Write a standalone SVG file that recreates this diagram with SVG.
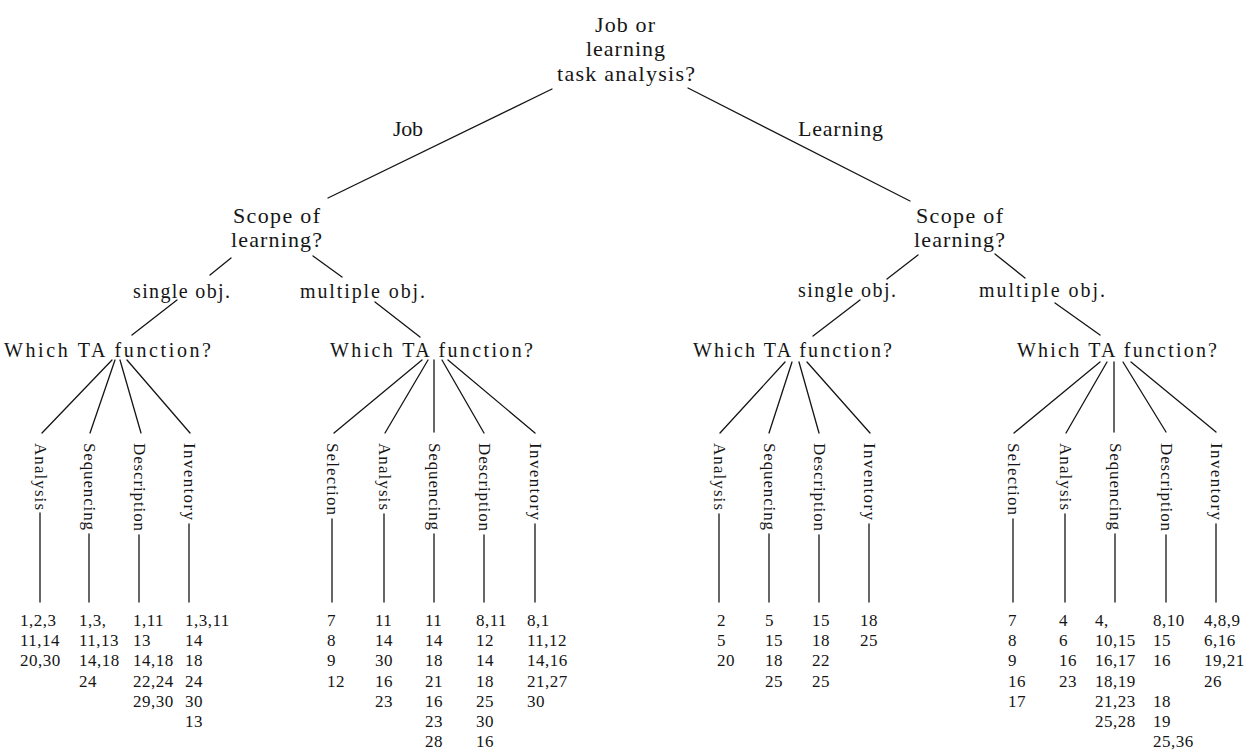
<svg xmlns="http://www.w3.org/2000/svg" width="1254" height="751" viewBox="0 0 1254 751">
<style>
text{font-family:"Liberation Serif","DejaVu Serif",serif;fill:#151515}
.q{font-size:22px}
.w{font-size:20px}
.v{font-size:17px}
.n{font-size:17px;letter-spacing:0.5px}
#connectors line{stroke:#151515;stroke-width:1.3;stroke-linecap:round}
</style>
<rect width="1254" height="751" fill="#fff"/>
<g id="connectors">
<line x1="552" y1="89" x2="328" y2="198"/>
<line x1="688" y1="88" x2="910" y2="201"/>
<line x1="231" y1="258" x2="210" y2="275"/>
<line x1="313" y1="256" x2="342" y2="277"/>
<line x1="918" y1="255" x2="887" y2="279"/>
<line x1="995" y1="254" x2="1025" y2="278"/>
<line x1="177" y1="300" x2="132" y2="335"/>
<line x1="375" y1="302" x2="420" y2="337"/>
<line x1="860" y1="300" x2="813" y2="336"/>
<line x1="1055" y1="303" x2="1100" y2="335"/>
<line x1="112" y1="360" x2="42" y2="433"/>
<line x1="115" y1="360" x2="90" y2="433"/>
<line x1="120" y1="360" x2="141" y2="433"/>
<line x1="127" y1="360" x2="190" y2="433"/>
<line x1="422" y1="360" x2="334" y2="433"/>
<line x1="428" y1="360" x2="385" y2="433"/>
<line x1="434" y1="360" x2="434" y2="432"/>
<line x1="442" y1="360" x2="484" y2="433"/>
<line x1="448" y1="360" x2="535" y2="433"/>
<line x1="785" y1="362" x2="720" y2="433"/>
<line x1="792" y1="362" x2="769" y2="433"/>
<line x1="799" y1="362" x2="819" y2="433"/>
<line x1="807" y1="362" x2="870" y2="433"/>
<line x1="1100" y1="362" x2="1014" y2="433"/>
<line x1="1107" y1="362" x2="1066" y2="433"/>
<line x1="1114" y1="362" x2="1114" y2="432"/>
<line x1="1123" y1="362" x2="1166" y2="432"/>
<line x1="1131" y1="362" x2="1216" y2="432"/>
<line x1="40" y1="513" x2="40" y2="602"/>
<line x1="89" y1="534" x2="89" y2="602"/>
<line x1="139" y1="535" x2="139" y2="602"/>
<line x1="189" y1="524" x2="189" y2="602"/>
<line x1="332" y1="519" x2="332" y2="602"/>
<line x1="384" y1="514" x2="384" y2="602"/>
<line x1="434" y1="534" x2="434" y2="602"/>
<line x1="484" y1="535" x2="484" y2="602"/>
<line x1="535" y1="524" x2="535" y2="602"/>
<line x1="719" y1="514" x2="719" y2="602"/>
<line x1="769" y1="534" x2="769" y2="602"/>
<line x1="819" y1="535" x2="819" y2="602"/>
<line x1="869" y1="524" x2="869" y2="602"/>
<line x1="1013" y1="519" x2="1013" y2="602"/>
<line x1="1065" y1="514" x2="1065" y2="602"/>
<line x1="1115" y1="534" x2="1115" y2="602"/>
<line x1="1166" y1="535" x2="1166" y2="602"/>
<line x1="1216" y1="524" x2="1216" y2="602"/>
</g>
<g id="root">
<text class="q" x="595" y="32" textLength="60">Job or</text>
<text class="q" x="586" y="56" textLength="79">learning</text>
<text class="q" x="557" y="81" textLength="138">task analysis?</text>
</g>
<g id="label-job"><text class="q" x="393" y="136" textLength="30">Job</text></g>
<g id="label-learning"><text class="q" x="798" y="136" textLength="85">Learning</text></g>
<g id="scope-left">
<text class="q" x="233" y="223" textLength="87">Scope of</text>
<text class="q" x="231" y="247" textLength="91">learning?</text>
</g>
<g id="scope-right">
<text class="q" x="916" y="223" textLength="87">Scope of</text>
<text class="q" x="914" y="247" textLength="91">learning?</text>
</g>
<g id="single-left"><text class="w" x="133" y="298" textLength="97">single obj.</text></g>
<g id="multiple-left"><text class="w" x="300" y="298" textLength="125">multiple obj.</text></g>
<g id="single-right"><text class="w" x="798" y="297" textLength="98">single obj.</text></g>
<g id="multiple-right"><text class="w" x="979" y="297" textLength="126">multiple obj.</text></g>
<g id="wta-1"><text class="w" x="4" y="357" textLength="207">Which TA function?</text></g>
<g id="wta-2"><text class="w" x="330" y="357" textLength="203">Which TA function?</text></g>
<g id="wta-3"><text class="w" x="693" y="357" textLength="199">Which TA function?</text></g>
<g id="wta-4"><text class="w" x="1017" y="357" textLength="200">Which TA function?</text></g>
<g id="g1-functions">
<text class="v" transform="translate(35,443) rotate(90)" textLength="67">Analysis</text>
<text class="v" transform="translate(84,443) rotate(90)" textLength="87">Sequencing</text>
<text class="v" transform="translate(134,443) rotate(90)" textLength="88">Description</text>
<text class="v" transform="translate(184,443) rotate(90)" textLength="77">Inventory</text>
</g>
<g id="g2-functions">
<text class="v" transform="translate(327,443) rotate(90)" textLength="72">Selection</text>
<text class="v" transform="translate(379,443) rotate(90)" textLength="67">Analysis</text>
<text class="v" transform="translate(429,443) rotate(90)" textLength="87">Sequencing</text>
<text class="v" transform="translate(479,443) rotate(90)" textLength="88">Description</text>
<text class="v" transform="translate(530,443) rotate(90)" textLength="77">Inventory</text>
</g>
<g id="g3-functions">
<text class="v" transform="translate(714,443) rotate(90)" textLength="67">Analysis</text>
<text class="v" transform="translate(764,443) rotate(90)" textLength="87">Sequencing</text>
<text class="v" transform="translate(814,443) rotate(90)" textLength="88">Description</text>
<text class="v" transform="translate(864,443) rotate(90)" textLength="77">Inventory</text>
</g>
<g id="g4-functions">
<text class="v" transform="translate(1008,443) rotate(90)" textLength="72">Selection</text>
<text class="v" transform="translate(1060,443) rotate(90)" textLength="67">Analysis</text>
<text class="v" transform="translate(1110,443) rotate(90)" textLength="87">Sequencing</text>
<text class="v" transform="translate(1161,443) rotate(90)" textLength="88">Description</text>
<text class="v" transform="translate(1211,443) rotate(90)" textLength="77">Inventory</text>
</g>
<g id="g1-numbers">
<text class="n" y="626"><tspan x="20">1,2,3</tspan><tspan x="20" dy="20.2">11,14</tspan><tspan x="20" dy="20.2">20,30</tspan></text>
<text class="n" y="626"><tspan x="79">1,3,</tspan><tspan x="79" dy="20.2">11,13</tspan><tspan x="79" dy="20.2">14,18</tspan><tspan x="79" dy="20.2">24</tspan></text>
<text class="n" y="626"><tspan x="133">1,11</tspan><tspan x="133" dy="20.2">13</tspan><tspan x="133" dy="20.2">14,18</tspan><tspan x="133" dy="20.2">22,24</tspan><tspan x="133" dy="20.2">29,30</tspan></text>
<text class="n" y="626"><tspan x="185">1,3,11</tspan><tspan x="185" dy="20.2">14</tspan><tspan x="185" dy="20.2">18</tspan><tspan x="185" dy="20.2">24</tspan><tspan x="185" dy="20.2">30</tspan><tspan x="185" dy="20.2">13</tspan></text>
</g>
<g id="g2-numbers">
<text class="n" y="626"><tspan x="327">7</tspan><tspan x="327" dy="20.2">8</tspan><tspan x="327" dy="20.2">9</tspan><tspan x="327" dy="20.2">12</tspan></text>
<text class="n" y="626"><tspan x="375">11</tspan><tspan x="375" dy="20.2">14</tspan><tspan x="375" dy="20.2">30</tspan><tspan x="375" dy="20.2">16</tspan><tspan x="375" dy="20.2">23</tspan></text>
<text class="n" y="626"><tspan x="425">11</tspan><tspan x="425" dy="20.2">14</tspan><tspan x="425" dy="20.2">18</tspan><tspan x="425" dy="20.2">21</tspan><tspan x="425" dy="20.2">16</tspan><tspan x="425" dy="20.2">23</tspan><tspan x="425" dy="20.2">28</tspan></text>
<text class="n" y="626"><tspan x="476">8,11</tspan><tspan x="476" dy="20.2">12</tspan><tspan x="476" dy="20.2">14</tspan><tspan x="476" dy="20.2">18</tspan><tspan x="476" dy="20.2">25</tspan><tspan x="476" dy="20.2">30</tspan><tspan x="476" dy="20.2">16</tspan></text>
<text class="n" y="626"><tspan x="527">8,1</tspan><tspan x="527" dy="20.2">11,12</tspan><tspan x="527" dy="20.2">14,16</tspan><tspan x="527" dy="20.2">21,27</tspan><tspan x="527" dy="20.2">30</tspan></text>
</g>
<g id="g3-numbers">
<text class="n" y="626"><tspan x="717">2</tspan><tspan x="717" dy="20.2">5</tspan><tspan x="717" dy="20.2">20</tspan></text>
<text class="n" y="626"><tspan x="765">5</tspan><tspan x="765" dy="20.2">15</tspan><tspan x="765" dy="20.2">18</tspan><tspan x="765" dy="20.2">25</tspan></text>
<text class="n" y="626"><tspan x="812">15</tspan><tspan x="812" dy="20.2">18</tspan><tspan x="812" dy="20.2">22</tspan><tspan x="812" dy="20.2">25</tspan></text>
<text class="n" y="626"><tspan x="860">18</tspan><tspan x="860" dy="20.2">25</tspan></text>
</g>
<g id="g4-numbers">
<text class="n" y="626"><tspan x="1008">7</tspan><tspan x="1008" dy="20.2">8</tspan><tspan x="1008" dy="20.2">9</tspan><tspan x="1008" dy="20.2">16</tspan><tspan x="1008" dy="20.2">17</tspan></text>
<text class="n" y="626"><tspan x="1059">4</tspan><tspan x="1059" dy="20.2">6</tspan><tspan x="1059" dy="20.2">16</tspan><tspan x="1059" dy="20.2">23</tspan></text>
<text class="n" y="626"><tspan x="1095">4,</tspan><tspan x="1095" dy="20.2">10,15</tspan><tspan x="1095" dy="20.2">16,17</tspan><tspan x="1095" dy="20.2">18,19</tspan><tspan x="1095" dy="20.2">21,23</tspan><tspan x="1095" dy="20.2">25,28</tspan></text>
<text class="n" y="626"><tspan x="1153">8,10</tspan><tspan x="1153" dy="20.2">15</tspan><tspan x="1153" dy="20.2">16</tspan><tspan x="1153" dy="40.4">18</tspan><tspan x="1153" dy="20.2">19</tspan><tspan x="1153" dy="20.2">25,36</tspan></text>
<text class="n" y="626"><tspan x="1204">4,8,9</tspan><tspan x="1204" dy="20.2">6,16</tspan><tspan x="1204" dy="20.2">19,21</tspan><tspan x="1204" dy="20.2">26</tspan></text>
</g>
</svg>
